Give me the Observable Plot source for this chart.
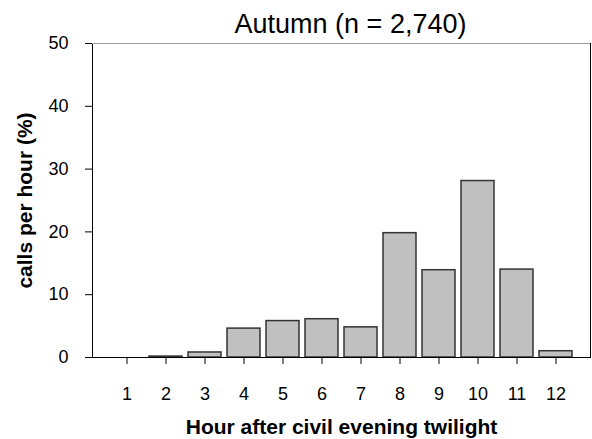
<!DOCTYPE html>
<html><head><meta charset="utf-8">
<script src="https://cdn.jsdelivr.net/npm/d3@7"></script>
<script src="https://cdn.jsdelivr.net/npm/@observablehq/plot@0.6"></script>
<style>body{margin:0;background:#fff;font-family:"Liberation Sans",Arial,sans-serif}</style>
</head><body><div id="chart"></div>
<script>
const hours = [1,2,3,4,5,6,7,8,9,10,11,12];
const callsPct = [0, 0.15, 0.8, 4.6, 5.8, 6.1, 4.8, 19.8, 13.9, 28.1, 14.0, 1.0];
const yTicks = [0,10,20,30,40,50];
const title = "Autumn (n = 2,740)";
const xLabel = "Hour after civil evening twilight";
const yLabel = "calls per hour (%)";

const data = hours.map((h,i)=>({hour:h, pct:callsPct[i]}));

const chart = Plot.plot({
  width: 592, height: 439,
  marginTop: 43, marginBottom: 82, marginLeft: 92, marginRight: 2,
  style: {fontFamily: '"Liberation Sans", Arial, sans-serif', fontSize: "18px", color: "#000", background: "#fff"},
  x: {type: "band", domain: hours, paddingInner: 0.156, paddingOuter: 0.446, label: null},
  y: {domain: [0, 50], label: null},
  marks: [
    Plot.barY(data, {x: "hour", y: "pct", fill: "#c0c0c0", stroke: "#333", strokeWidth: 1.5}),
    Plot.frame({stroke: "#000"}),
    Plot.ruleY([50], {stroke: "#999"}),
    Plot.axisY(yTicks, {tickSize: 7, tickPadding: 17, stroke: "#000", fontSize: 18, label: null}),
    Plot.axisX({tickSize: 7, tickPadding: 23, stroke: "#000", fontSize: 18, label: null}),
    Plot.text([title], {frameAnchor: "top", textAnchor: "middle", lineAnchor: "middle", dx: 9, dy: -19, fontSize: 27, text: d => d}),
    Plot.text([xLabel], {frameAnchor: "bottom", textAnchor: "middle", lineAnchor: "middle", dy: 70, fontSize: 21, fontWeight: "bold", text: d => d}),
    Plot.text([yLabel], {frameAnchor: "left", textAnchor: "middle", lineAnchor: "middle", dx: -67, dy: 0, rotate: -90, fontSize: 21, fontWeight: "bold", text: d => d})
  ]
});
document.getElementById("chart").append(chart);
</script></body></html>
